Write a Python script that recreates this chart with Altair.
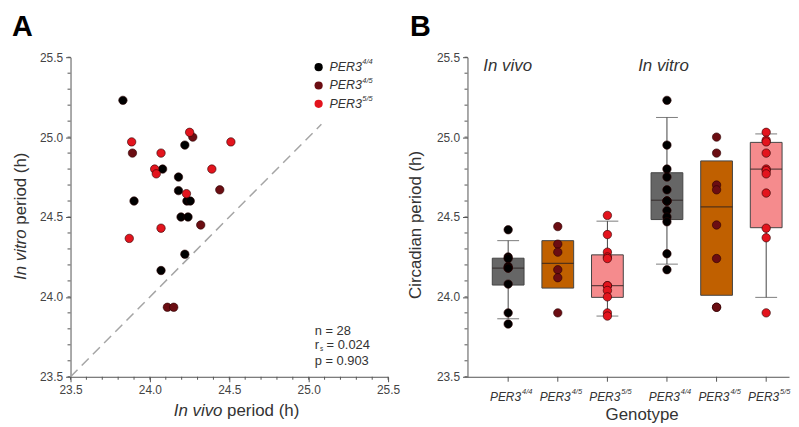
import altair as alt
import pandas as pd

FONT = "Liberation Sans"
TXT = "#333333"
AX = "#555555"

# ---------------- Panel A data (in vivo x, in vitro y) ----------------
A_GENO = ["4/4", "4/5", "5/5"]
A_44_VIVO = [23.83, 23.90, 24.08, 24.22, 24.18, 24.18, 24.233, 24.254, 24.196, 24.24, 24.22, 24.07]
A_44_VITRO = [25.23, 24.60, 24.80, 24.95, 24.75, 24.665, 24.60, 24.60, 24.50, 24.50, 24.267, 24.165]
A_45_VIVO = [23.89, 24.27, 24.44, 24.32, 24.11, 24.15]
A_45_VITRO = [24.90, 25.00, 24.67, 24.45, 23.935, 23.935]
A_55_VIVO = [23.885, 24.07, 24.03, 24.04, 24.25, 24.51, 24.39, 24.23, 24.07, 23.87]
A_55_VITRO = [24.97, 24.90, 24.80, 24.77, 25.03, 24.97, 24.80, 24.646, 24.43, 24.366]
DIAG = [23.5, 25.08]

# ---------------- Panel B data ----------------
B_GROUPS = ["In vivo", "In vitro"]
B_GENO = ["4/4", "4/5", "5/5"]
VIVO_44 = [24.42, 24.25, 24.24, 24.19, 24.18, 24.18, 24.08, 23.90, 23.83]
VIVO_45 = [24.44, 24.33, 24.28, 24.17, 24.12, 23.90]
VIVO_55 = [24.51, 24.39, 24.28, 24.25, 24.24, 24.07, 24.07, 24.04, 24.00, 23.90, 23.88]
VITRO_44 = [25.23, 24.95, 24.80, 24.75, 24.67, 24.60, 24.60, 24.60, 24.54, 24.50, 24.47, 24.27, 24.17]
VITRO_45 = [25.00, 24.90, 24.70, 24.67, 24.45, 24.24, 23.935, 23.935]
VITRO_55 = [25.03, 24.98, 24.97, 24.90, 24.80, 24.79, 24.77, 24.65, 24.43, 24.37, 23.90]
# box statistics, order: vivo 4/4, 4/5, 5/5, vitro 4/4, 4/5, 5/5
Q1 = [24.074, 24.055, 23.997, 24.484, 24.010, 24.433]
MED = [24.180, 24.210, 24.070, 24.605, 24.563, 24.800]
Q3 = [24.242, 24.352, 24.263, 24.777, 24.851, 24.967]
WLO = [23.863, None, 23.880, 24.205, None, 23.997]
WHI = [24.352, None, 24.474, 25.123, None, 25.020]

MAJOR_TICKS = [23.5, 24.0, 24.5, 25.0, 25.5]
MINOR_TICKS = [round(23.5 + 0.1 * i, 1) for i in range(21)]
GENO_COLORS = ["#000000", "#6b0d12", "#e3141d"]
BOX_COLORS = ["#666666", "#c06000", "#f58b8d"]

ONE = pd.DataFrame({"k": [0]})
dfMinor = pd.DataFrame({"t": MINOR_TICKS})


def axis():
    return alt.Axis(
        values=MAJOR_TICKS, format=".1f", title=None, grid=False,
        labelOverlap=False, labelFlush=False, tickSize=5,
        domainColor=AX, tickColor=AX, labelColor="#444444",
        labelFont=FONT, labelFontSize=12, labelPadding=3,
    )


def txt(text, x, y, size=17, style="normal", weight="normal", align="left",
        baseline="alphabetic", angle=0, color=TXT):
    return alt.Chart(ONE).mark_text(
        text=text, align=align, baseline=baseline, angle=angle, font=FONT,
        fontSize=size, fontStyle=style, fontWeight=weight, color=color,
    ).encode(x=alt.value(x), y=alt.value(y))


SC = alt.Scale(domain=[23.5, 25.5], nice=False, zero=False)

minor_y = alt.Chart(dfMinor).mark_rule(color=AX, strokeWidth=1).encode(
    y=alt.Y("t:Q", scale=SC, axis=axis()), x=alt.value(-3), x2=alt.value(0))

# ---------------- Panel A ----------------
rows = []
for g, xs, ys in zip(A_GENO, [A_44_VIVO, A_45_VIVO, A_55_VIVO], [A_44_VITRO, A_45_VITRO, A_55_VITRO]):
    for a, b in zip(xs, ys):
        rows.append({"vivo": a, "vitro": b, "geno": g})
dfA = pd.DataFrame(rows)
dfA["ord"] = range(len(dfA))

minor_x = alt.Chart(dfMinor).mark_rule(color=AX, strokeWidth=1).encode(
    x=alt.X("t:Q", scale=SC, axis=axis()), y=alt.value(322), y2=alt.value(325))

diag = alt.Chart(pd.DataFrame({"x": DIAG, "y": DIAG})).mark_line(
    color="#a5a5a5", strokeDash=[10, 6], strokeWidth=1.5
).encode(x=alt.X("x:Q", scale=SC), y=alt.Y("y:Q", scale=SC))

ptsA = alt.Chart(dfA).mark_circle(size=72, opacity=1, stroke="#2a0000", strokeWidth=0.6).encode(
    x=alt.X("vivo:Q", scale=SC), y=alt.Y("vitro:Q", scale=SC),
    color=alt.Color("geno:N", scale=alt.Scale(domain=A_GENO, range=GENO_COLORS), legend=None),
    order="ord:Q",
)

layersA = [minor_y, minor_x, diag, ptsA]
# legend
for i, (g, c) in enumerate(zip(A_GENO, GENO_COLORS)):
    yy = 10 + i * 18.5
    layersA.append(alt.Chart(ONE).mark_circle(size=68, opacity=1, color=c).encode(
        x=alt.value(250), y=alt.value(yy)))
    layersA.append(txt("PER3", 261, yy, size=12.5, style="italic", baseline="middle"))
    layersA.append(txt(g, 294, yy - 5, size=7.5, style="italic", baseline="middle"))
# stats
layersA += [
    txt("n = 28", 246, 280, size=13),
    txt("r", 246, 294.5, size=13),
    txt("s", 251.5, 296.5, size=6.5),
    txt("= 0.024", 258, 294.5, size=13),
    txt("p = 0.903", 246, 310, size=13),
]
# titles
layersA += [
    txt("A", -59, -44, size=29, weight="bold", baseline="top", color="#000000"),
    txt("In vitro", -50, 224.5, style="italic", angle=270, baseline="middle"),
    txt("period (h)", -50, 168.8, angle=270, baseline="middle"),
    txt("In vivo", 104, 362, style="italic"),
    txt("period (h)", 157.8, 362),
]
panelA = alt.layer(*layersA).properties(width=320, height=322)

# ---------------- Panel B ----------------
pts = []
for grp, lists in zip(B_GROUPS, [[VIVO_44, VIVO_45, VIVO_55], [VITRO_44, VITRO_45, VITRO_55]]):
    for g, vals in zip(B_GENO, lists):
        for v in vals:
            pts.append({"group": grp, "geno": g, "val": v})
dfBp = pd.DataFrame(pts)

boxes = []
k = 0
for grp in B_GROUPS:
    for g in B_GENO:
        boxes.append({"group": grp, "geno": g, "q1": Q1[k], "med": MED[k], "q3": Q3[k],
                      "wlo": WLO[k], "whi": WHI[k]})
        k += 1
dfBb = pd.DataFrame(boxes)
dfBw = dfBb.dropna(subset=["wlo"])

XB = alt.X("group:N", sort=B_GROUPS,
           scale=alt.Scale(domain=B_GROUPS, paddingInner=0.125, paddingOuter=0.075, align=0.875),
           axis=alt.Axis(labels=False, ticks=False, title=None, domainColor=AX))
XO = alt.XOffset("geno:N", scale=alt.Scale(domain=B_GENO, paddingInner=0.2, paddingOuter=0))

wl = alt.Chart(dfBw).mark_rule(color="#444444", strokeWidth=1).encode(
    x=XB, xOffset=XO, y=alt.Y("wlo:Q", scale=SC), y2="q1:Q")
wh = alt.Chart(dfBw).mark_rule(color="#444444", strokeWidth=1).encode(
    x=XB, xOffset=XO, y=alt.Y("q3:Q", scale=SC), y2="whi:Q")
capl = alt.Chart(dfBw).mark_tick(color="#444444", size=22, thickness=1, orient="horizontal").encode(
    x=XB, xOffset=XO, y=alt.Y("wlo:Q", scale=SC))
caph = alt.Chart(dfBw).mark_tick(color="#444444", size=22, thickness=1, orient="horizontal").encode(
    x=XB, xOffset=XO, y=alt.Y("whi:Q", scale=SC))
box = alt.Chart(dfBb).mark_bar(width=32, stroke="#444444", strokeWidth=1, opacity=1).encode(
    x=XB, xOffset=XO, y=alt.Y("q1:Q", scale=SC), y2="q3:Q",
    fill=alt.Fill("geno:N", scale=alt.Scale(domain=B_GENO, range=BOX_COLORS), legend=None))
med = alt.Chart(dfBb).mark_tick(color="#2a2020", size=32, thickness=1.2, orient="horizontal").encode(
    x=XB, xOffset=XO, y=alt.Y("med:Q", scale=SC))
ptsB = alt.Chart(dfBp).mark_circle(size=72, opacity=1, stroke="#2a0000", strokeWidth=0.6).encode(
    x=XB, xOffset=XO, y=alt.Y("val:Q", scale=SC),
    color=alt.Color("geno:N", scale=alt.Scale(domain=B_GENO, range=GENO_COLORS), legend=None))
xt = alt.Chart(dfBb).mark_rule(color=AX).encode(
    x=XB, xOffset=XO, y=alt.value(322), y2=alt.value(327))
lab1 = alt.Chart(dfBb).mark_text(text="PER3", align="right", dx=13, font=FONT, fontSize=12,
                                  fontStyle="italic", color=TXT).encode(
    x=XB, xOffset=XO, y=alt.value(342))
lab2 = alt.Chart(dfBb).mark_text(align="left", dx=14, font=FONT, fontSize=7.5,
                                  fontStyle="italic", color=TXT).encode(
    x=XB, xOffset=XO, y=alt.value(337), text="geno:N")

layersB = [minor_y, wl, wh, capl, caph, box, med, ptsB, xt, lab1, lab2,
           txt("B", -58, -44, size=29, weight="bold", baseline="top", color="#000000"),
           txt("Circadian period (h)", -52, 169, angle=270, align="center", baseline="middle"),
           txt("In vivo", 16, 14, style="italic"),
           txt("In vitro", 172, 14, style="italic"),
           txt("Genotype", 176, 366, align="center")]
panelB = alt.layer(*layersB).properties(width=324, height=322)

chart = alt.hconcat(panelA, panelB, spacing=80, bounds="flush").properties(
    padding={"left": 4, "top": 4, "right": 0, "bottom": 0}
).configure_view(stroke=None)

chart.save("out.html", embed_options={"renderer": "svg", "actions": False})
